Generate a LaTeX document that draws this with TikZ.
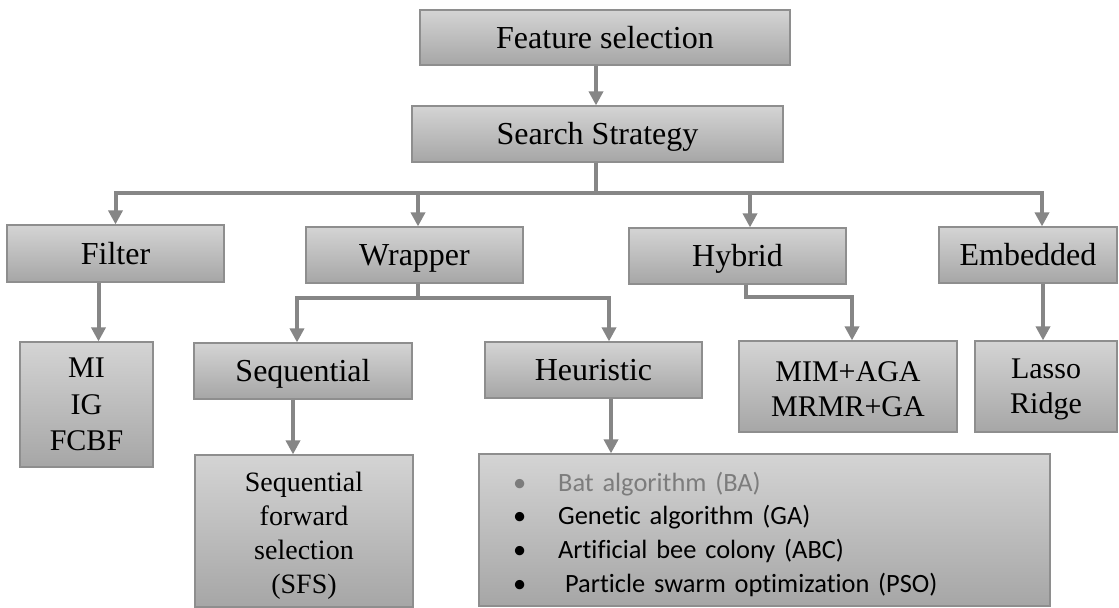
\documentclass[tikz,border=0pt]{standalone}
\usepackage{fontspec}
\setmainfont{Liberation Serif}
\newfontfamily\listfont[Ligatures={NoCommon,NoContextual},Contextuals=NoAlternate]{Carlito}
\usetikzlibrary{arrows.meta,positioning}
\definecolor{linegray}{HTML}{868686}
\definecolor{edgegray}{HTML}{8E8E8E}
\definecolor{toplight}{HTML}{D4D4D4}
\definecolor{botdark}{HTML}{A6A6A6}
\definecolor{batgray}{HTML}{7C7C7C}
\tikzset{
  box/.style={draw=edgegray, line width=0.6pt, top color=toplight, bottom color=botdark,
    inner sep=0pt, align=center, font=\fontsize{16}{19}\selectfont},
  tag/.style={box, text height=10.6pt, text depth=0pt},
  arr/.style={draw=linegray, line width=2pt, -{Triangle[width=7pt,length=7pt]}},
}

\begin{document}
\begin{tikzpicture}[x=0.5pt,y=-0.5pt]
    \useasboundingbox (0,0) rectangle (1119,608);
    % top levels
    \node[tag, minimum width=185pt, minimum height=27.5pt] (fs) at (605,37.5) {Feature selection};
    \node[tag, minimum width=185.5pt, minimum height=28pt] (ss) at (597.5,134) {Search Strategy};
    \node[tag, minimum width=108.5pt, minimum height=28.5pt] (filter) at (115.5,253.5) {Filter};
    \node[tag, minimum width=108.5pt, minimum height=28pt] (wr) at (414.5,255) {Wrapper};
    \node[tag, minimum width=108.5pt, minimum height=28pt] (hy) at (737.5,256) {Hybrid};
    \node[tag, minimum width=89pt, minimum height=28pt] (emb) at (1028,255) {Embedded};
    % methods
    \node[box, minimum width=66.5pt, minimum height=62.5pt, font=\fontsize{15}{18.3}\selectfont] (mi) at (86.5,404.5) {MI\\IG\\FCBF};
    \node[tag, minimum width=109pt, minimum height=28pt] (seq) at (303,371) {Sequential};
    \node[tag, minimum width=108.5pt, minimum height=28pt] (heu) at (593.5,370) {Heuristic};
    \node[box, minimum width=109pt, minimum height=45.5pt, font=\fontsize{15}{17.5}\selectfont] (mim) at (848,386.5) {\strut MIM+AGA\\MRMR+GA};
    \node[box, minimum width=71pt, minimum height=45.5pt, font=\fontsize{15}{17.5}\selectfont] (lasso) at (1046,386.5) {\strut Lasso\\Ridge};
    \node[box, minimum width=109pt, minimum height=76pt, font=\fontsize{14}{17}\selectfont] (sfs) at (304,531) {\rule{0pt}{14pt}Sequential\\forward\\selection\\(SFS)};
    \node[box, minimum width=285.5pt, minimum height=76pt, text width=251.5pt, align=left,
      font=\listfont\fontsize{13.2}{16.9}\selectfont] (algs) at (764.5,530)
      {\rule{0pt}{14pt}\textcolor{batgray}{\textbullet\hspace{16pt}Bat algorithm (BA)}\\
       \textbullet\hspace{16pt}Genetic algorithm (GA)\\
       \textbullet\hspace{16pt}Artificial bee colony (ABC)\\
       \textbullet\hspace{19.5pt}Particle swarm optimization (PSO)};
    % connectors
    \coordinate (bus) at (596,193);
    \coordinate (wbus) at (418,298);
    \coordinate (hbus) at (746,297);
    \draw[arr] (fs.south -| bus) -- (ss.north -| bus);
    \draw[arr] (ss.south -| bus) -- (bus) -| (filter.north);
    \draw[arr] (ss.south -| bus) -- (bus) -| ([xshift=1.75pt]wr.north);
    \draw[arr] (ss.south -| bus) -- (bus) -| ([xshift=6.25pt]hy.north);
    \draw[arr] (ss.south -| bus) -- (bus) -| ([xshift=7pt]emb.north);
    \draw[arr] (wr.south -| wbus) -- (wbus) -| ([xshift=-3pt]seq.north);
    \draw[arr] (wr.south -| wbus) -- (wbus) -| ([xshift=7.75pt]heu.north);
    \draw[arr] (hy.south -| hbus) -- (hbus) -| ([xshift=2pt]mim.north);
    \path ([xshift=-8.5pt]filter.south) coordinate (fout)
          ([xshift=-5pt]seq.south) coordinate (sout)
          ([xshift=8.75pt]heu.south) coordinate (hout)
          ([xshift=7.5pt]emb.south) coordinate (eout);
    \draw[arr] (fout) -- (fout |- mi.north);
    \draw[arr] (sout) -- (sout |- sfs.north);
    \draw[arr] (hout) -- (hout |- algs.north);
    \draw[arr] (eout) -- (eout |- lasso.north);
\end{tikzpicture}
\end{document}
